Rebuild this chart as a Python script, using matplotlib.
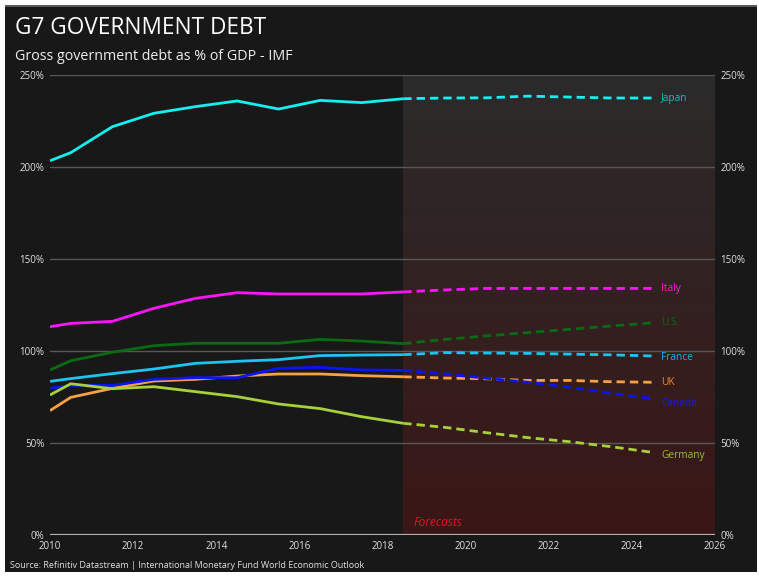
import numpy as np
import matplotlib
matplotlib.use("Agg")
import matplotlib.pyplot as plt
from matplotlib.patches import Rectangle
from matplotlib.colors import to_rgb

plt.rcParams['font.family'] = ['Open Sans', 'DejaVu Sans']

# year positions (mid-year points, first one sits on the 2010 edge)
hist_years = [2010, 2010.5, 2011.5, 2012.5, 2013.5, 2014.5, 2015.5, 2016.5, 2017.5, 2018.5]
fcst_years = [2018.5, 2019.5, 2020.5, 2021.5, 2022.5, 2023.5, 2024.5]

japan_hist = [203.4, 207.8, 221.9, 229.2, 232.8, 235.9, 231.5, 236.2, 235.0, 237.1]
japan_fcst = [237.1, 237.5, 237.6, 238.5, 238.0, 237.5, 237.5]
italy_hist = [113.2, 115.0, 116.1, 123.2, 128.6, 131.7, 131.0, 131.0, 131.0, 132.1]
italy_fcst = [132.1, 133.2, 134.0, 134.0, 134.0, 134.0, 134.0]
us_hist = [89.7, 94.7, 99.3, 102.9, 104.2, 104.2, 104.2, 106.3, 105.4, 104.0]
us_fcst = [104.0, 106.3, 108.2, 110.0, 111.8, 113.6, 115.3]
france_hist = [83.5, 85.0, 87.7, 90.2, 93.3, 94.4, 95.3, 97.5, 97.8, 98.0]
france_fcst = [98.0, 99.1, 98.9, 98.7, 98.3, 97.9, 97.3]
uk_hist = [67.6, 74.8, 79.7, 83.7, 84.6, 86.4, 87.5, 87.5, 86.6, 86.0]
uk_fcst = [86.0, 85.3, 84.9, 84.0, 84.0, 83.3, 83.0]
canada_hist = [79.7, 81.3, 81.3, 84.6, 85.5, 85.5, 90.6, 91.1, 89.7, 89.5]
canada_fcst = [89.5, 87.5, 85.2, 83.0, 80.3, 77.0, 74.1]
germany_hist = [76.1, 82.2, 79.5, 80.6, 77.9, 75.2, 71.2, 68.7, 64.3, 60.7]
germany_fcst = [60.7, 58.5, 55.6, 52.9, 50.7, 48.0, 44.9]

countries = ['Japan', 'Italy', 'U.S.', 'France', 'UK', 'Canada', 'Germany']
hist = [japan_hist, italy_hist, us_hist, france_hist, uk_hist, canada_hist, germany_hist]
fcst = [japan_fcst, italy_fcst, us_fcst, france_fcst, uk_fcst, canada_fcst, germany_fcst]
line_colors = ['#14f0f0', '#ff14ff', '#0b6b12', '#1cc4f2', '#f7a145', '#0a14f5', '#a5d23a']
label_colors = ['#18c0c0', '#ff14e0', '#0b6b12', '#1aaee0', '#e8883a', '#1a1ae8', '#96c232']
label_dy = [0, 0, 0, -0.8, 0, -2.5, -1.5]

y_ticks = [0, 50, 100, 150, 200, 250]
x_ticks = [2010, 2012, 2014, 2016, 2018, 2020, 2022, 2024, 2026]

bg = '#181818'
fig = plt.figure(figsize=(7.59, 5.81), dpi=100, facecolor='white')
fig.patches.append(Rectangle((5 / 759, 9 / 581), 752 / 759, 566 / 581,
                             transform=fig.transFigure, facecolor=bg, edgecolor='none', zorder=-2))
fig.patches.append(Rectangle((5 / 759, 574 / 581), 752 / 759, 2 / 581,
                             transform=fig.transFigure, facecolor='#5a5a5a', edgecolor='none', zorder=-2))

ax = fig.add_axes([50 / 759, 46 / 581, 665 / 759, 460 / 581])
ax.set_facecolor(bg)
ax.patch.set_alpha(0)

# forecast shading: grey at top fading to dark red
top = np.array(to_rgb('#2b2b2b'))
bot = np.array(to_rgb('#3b1616'))
t = np.linspace(0, 1, 256)[:, None]
grad = (top * (1 - t) + bot * t)[:, None, :]
ax.imshow(grad, extent=[2018.5, 2026, 0, 250], aspect='auto', origin='upper', zorder=0)

for yv in y_ticks[1:]:
    ax.axhline(yv, color='#575757', lw=1, zorder=1)
ax.axhline(0, color='#b0b0b0', lw=1.6, zorder=1)

for name, h, f, c, lc, dy in zip(countries, hist, fcst, line_colors, label_colors, label_dy):
    ax.plot(hist_years, h, color=c, lw=2, zorder=3, solid_capstyle='butt')
    ax.plot(fcst_years, f, color=c, lw=2, zorder=3, dashes=(3, 1.8))
    ax.text(fcst_years[-1] + 0.2, f[-1] + dy, name, color=lc, fontsize=7.3,
            va='center', ha='left', zorder=4)

ax.text(2018.75, 3.5, 'Forecasts', color='#e8102a', fontsize=8.5, style='italic',
        ha='left', va='bottom')

ax.set_xlim(2010, 2026)
ax.set_ylim(0, 250)
ax.set_xticks(x_ticks)
ax.set_yticks(y_ticks)
ax.set_yticklabels(['{}%'.format(v) for v in y_ticks])
ax.tick_params(axis='both', length=0, labelsize=7, labelcolor='#e0e0e0')
ax.tick_params(axis='y', pad=4, labelleft=True, labelright=True)
ax.tick_params(axis='x', pad=4)
for s in ax.spines.values():
    s.set_visible(False)

fig.text(15 / 759, 1 - 28 / 581, 'G7 GOVERNMENT DEBT', color='white', fontsize=16.3, va='center', ha='left')
fig.text(15 / 759, 1 - 57 / 581, 'Gross government debt as % of GDP - IMF', color='#eeeeee',
         fontsize=10.3, va='center', ha='left')
fig.text(10 / 759, 1 - 565 / 581,
         'Source: Refinitiv Datastream | International Monetary Fund World Economic Outlook',
         color='#e0e0e0', fontsize=6.5, va='center', ha='left')

fig.savefig('out.png', dpi=100, facecolor='white')
